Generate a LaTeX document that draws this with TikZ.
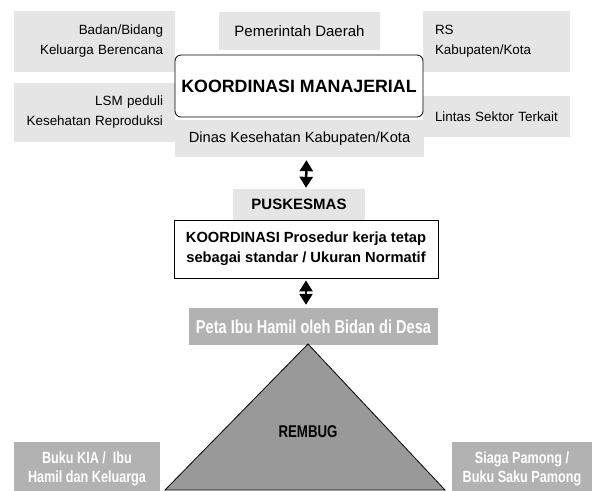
\documentclass[tikz,border=0pt]{standalone}
\usepackage{fontspec}
\setmainfont{Liberation Sans}
\newfontfamily\narrowfont{Liberation Sans}[FakeStretch=0.78]
\usetikzlibrary{arrows.meta}
\tikzset{
  lightbox/.style={fill=gray!20, inner ysep=0pt, inner xsep=12pt, font=\fontsize{13.4}{20}\selectfont},
  darkbox/.style={fill=gray!60, text=white, inner ysep=0pt, inner xsep=4pt, font=\narrowfont\fontsize{16.2}{18.5}\selectfont\bfseries},
  dblarrow/.style={{Triangle[width=13pt,length=11pt]}-{Triangle[width=13pt,length=11pt]}, line width=2.5pt},
}
\begin{document}
\begin{tikzpicture}[x=1pt,y=-1pt]
	\useasboundingbox (0,0) rectangle (594,490);
	% partner boxes round the top
	\node[lightbox, minimum width=161, minimum height=61, text width=137, align=right] (bkkbn) at (94.5,41.5) {Badan/Bidang\\Keluarga Berencana};
	\node[lightbox, minimum width=161, minimum height=59, text width=137, align=right] (lsm) at (94.5,112.5) {LSM peduli\\Kesehatan Reproduksi};
	\node[lightbox, minimum width=161, minimum height=38, font=\fontsize{15}{20}\selectfont] (pemda) at (299.5,31) {Pemerintah Daerah};
	\node[lightbox, minimum width=147, minimum height=61, text width=123, align=left] (rs) at (496.5,41.5) {RS\\Kabupaten/Kota};
	\node[lightbox, minimum width=147, minimum height=41, text width=123, align=left] (lintas) at (496.5,116.5) {Lintas Sektor Terkait};
	\node[lightbox, minimum width=249, minimum height=37, font=\fontsize{14.7}{20}\selectfont] (dinas) at (299.5,138.5) {Dinas Kesehatan Kabupaten/Kota};
	\node[draw, fill=white, rounded corners=6pt, line width=0.8pt, minimum width=248, minimum height=62, inner sep=0pt,
		font=\fontsize{17.8}{20}\selectfont\bfseries] (manajerial) at (299,86) {KOORDINASI MANAJERIAL};
	% puskesmas level
	\node[lightbox, minimum width=132, minimum height=31, font=\fontsize{15}{20}\selectfont\bfseries] (puskesmas) at (299,204.5) {PUSKESMAS};
	\node[draw, fill=white, line width=0.8pt, minimum width=264, minimum height=58, inner sep=0pt, align=center,
		font=\fontsize{14.7}{20}\selectfont\bfseries] (prosedur) at (306,249) {KOORDINASI Prosedur kerja tetap\\sebagai standar / Ukuran Normatif};
	\draw[dblarrow] ([xshift=7pt,yshift=-3pt]dinas.south) -- ([xshift=7pt,yshift=1pt]puskesmas.north);
	% desa level
	\node[darkbox, minimum width=249, minimum height=37, font=\narrowfont\fontsize{18.7}{22}\selectfont\bfseries] (peta) at (313.5,326.5) {Peta Ibu Hamil oleh Bidan di Desa};
	\draw[dblarrow] ([yshift=-2pt]prosedur.south) -- ([yshift=3pt]prosedur.south |- peta.north);
	\coordinate (puncak) at (308,344);
	\filldraw[fill=gray!80, draw=black, line width=0.8pt] (puncak) -- (445,490) -- (165,490) -- cycle;
	\node[font=\narrowfont\fontsize{17}{20}\selectfont\bfseries] (rembug) at (308,432) {REMBUG};
	\node[darkbox, minimum width=146, minimum height=54, align=center] (kia) at (87,469) {Buku KIA /\ \ Ibu\\Hamil dan Keluarga};
	\node[darkbox, minimum width=140, minimum height=54, align=center] (pamong) at (522,469) {Siaga Pamong /\\Buku Saku Pamong};
\end{tikzpicture}
\end{document}
